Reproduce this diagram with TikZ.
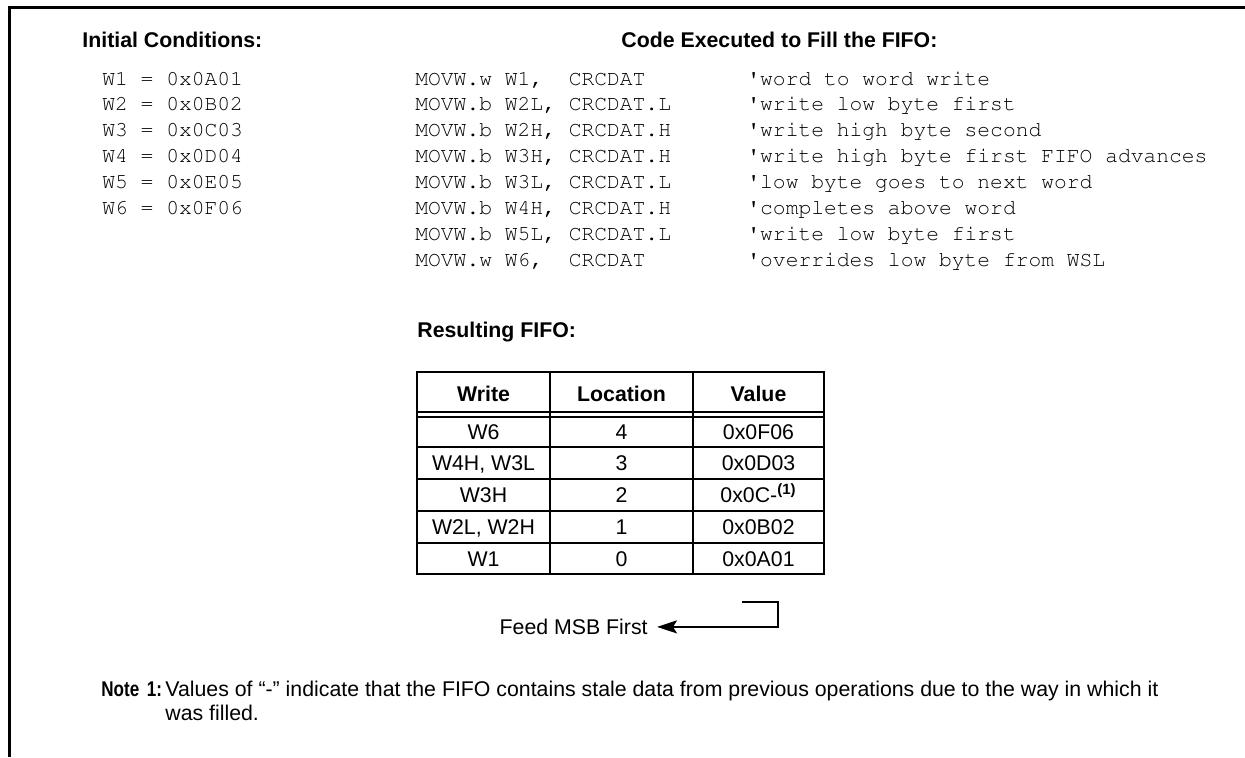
\documentclass[tikz,border=0pt]{standalone}
\usepackage[T1,TU]{fontenc}
\usepackage{fontspec}
\setmainfont{Liberation Sans}
\setmonofont{Liberation Mono}
\usepackage{tikz}
\usetikzlibrary{positioning,calc,arrows.meta}
\newcommand{\courfont}{\fontencoding{T1}\fontfamily{pcr}\fontseries{m}\fontshape{n}\fontsize{10.65}{13}\selectfont}

\begin{document}
\begin{tikzpicture}[
    x=0.5pt, y=-0.5pt,
    headtxt/.style={font=\fontsize{10.65}{13}\selectfont\bfseries, anchor=base west, inner sep=0},
    codetxt/.style={font=\courfont, anchor=base west, inner sep=0},
    celltxt/.style={font=\fontsize{10.65}{13}\selectfont, anchor=base, inner sep=0},
    frameline/.style={line width=1.5pt},
    tblline/.style={line width=1pt}
]
    \useasboundingbox (0,0) rectangle (1245,757);
    \draw[frameline] (9,757) -- (9,7) -- (1245,7);

    % initial register values
    \node[headtxt] (inithead) at (82,47) {Initial Conditions:};
    \foreach \reg/\val [count=\k] in {W1/0A01, W2/0B02, W3/0C03, W4/0D04, W5/0E05, W6/0F06}
        \node[codetxt] (init\k) at (102,{85+25.9*(\k-1)}) {\reg\ =\ 0x\val};

    % code that fills the FIFO
    \node[headtxt] (codehead) at (621,47) {Code Executed to Fill the FIFO:};
    \foreach \ins/\dst/\cmt [count=\k] in {
        {MOVW.w W1,}/CRCDAT/{word to word write},
        {MOVW.b W2L,}/CRCDAT.L/{write low byte first},
        {MOVW.b W2H,}/CRCDAT.H/{write high byte second},
        {MOVW.b W3H,}/CRCDAT.H/{write high byte first FIFO advances},
        {MOVW.b W3L,}/CRCDAT.L/{low byte goes to next word},
        {MOVW.b W4H,}/CRCDAT.H/{completes above word},
        {MOVW.b W5L,}/CRCDAT.L/{write low byte first},
        {MOVW.w W6,}/CRCDAT/{overrides low byte from WSL}} {
        \node[codetxt] (ins\k) at (415,{85+25.9*(\k-1)}) {\ins};
        \node[codetxt] (dst\k) at (568.4,{85+25.9*(\k-1)}) {\dst};
        \node[codetxt] (cmt\k) at (747,{85+25.9*(\k-1)}) {\textquotesingle\cmt};
    }

    % resulting FIFO table
    \node[headtxt] (fifohead) at (417,337) {Resulting FIFO:};
    \draw[tblline] (417,372) rectangle (824,574);
    \draw[tblline] (550,372) -- (550,574);
    \draw[tblline] (693,372) -- (693,574);
    \foreach \yy in {412,417,447,479,511,543}
        \draw[tblline] (417,\yy) -- (824,\yy);
    \node[celltxt, font=\fontsize{10.65}{13}\selectfont\bfseries] (hwrite) at (483.5,401.5) {Write};
    \node[celltxt, font=\fontsize{10.65}{13}\selectfont\bfseries] (hloc) at (621.5,401.5) {Location};
    \node[celltxt, font=\fontsize{10.65}{13}\selectfont\bfseries] (hval) at (758.5,401.5) {Value};
    \foreach \wr/\loc/\val/\yy [count=\k] in {
        W6/4/0x0F06/439.5,
        {W4H, W3L}/3/0x0D03/470.5,
        W3H/2/{0x0C-\textsuperscript{\bfseries(1)}}/502.5,
        {W2L, W2H}/1/0x0B02/534.5,
        W1/0/0x0A01/566} {
        \node[celltxt] (wr\k) at (483.5,\yy) {\wr};
        \node[celltxt] (loc\k) at (621.5,\yy) {\loc};
        \node[celltxt] (val\k) at (758.5,\yy) {\val};
    }

    % feed direction
    \node[celltxt, anchor=base east] (feed) at (648,634.5) {Feed MSB First};
    \coordinate (feedin) at (742,602);
    \draw[tblline, -{Stealth[length=10pt,width=6.5pt,inset=2pt]}, shorten >=4.5pt] (feedin) -- ++(36,0) |- (feed.east);

    % note
    \node[headtxt] (notelbl) at (101,696) {\scalebox{0.8}[1]{Note\hspace{0.45em}1:}};
    \node[celltxt, anchor=north west, align=left] (notetxt) at (165,680.5)
        {Values of “-” indicate that the FIFO contains stale data from previous operations due to the way in which it\\[-1pt]was filled.};
\end{tikzpicture}
\end{document}
